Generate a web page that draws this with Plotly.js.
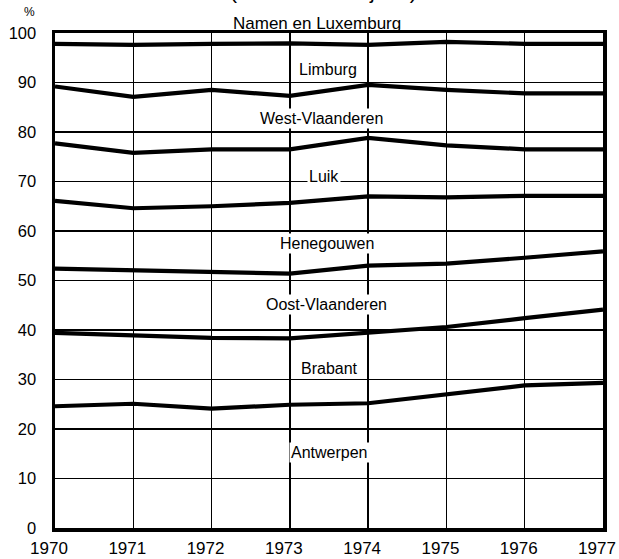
<!DOCTYPE html>
<html>
<head>
<meta charset="utf-8">
<script src="https://cdn.plot.ly/plotly-3.0.1.min.js"></script>
<style>html,body{margin:0;padding:0;background:#fff;}#chart{width:619px;height:559px;}</style>
</head>
<body>
<div id="chart"></div>
<script>
const years = [1970, 1971, 1972, 1973, 1974, 1975, 1976, 1977];
// cumulative upper boundaries (%) of each province band
const antwerpen       = [24.6, 25.1, 24.1, 24.9, 25.2, 26.9, 28.8, 29.3];
const brabant         = [39.4, 38.9, 38.4, 38.3, 39.4, 40.6, 42.4, 44.1];
const oostVlaanderen  = [52.4, 52.1, 51.6, 51.4, 53.0, 53.4, 54.6, 55.9];
const henegouwen      = [66.1, 64.6, 65.0, 65.7, 67.0, 66.8, 67.1, 67.1];
const luik            = [77.7, 75.8, 76.5, 76.5, 78.8, 77.3, 76.5, 76.5];
const westVlaanderen  = [89.2, 87.1, 88.5, 87.3, 89.5, 88.5, 87.8, 87.8];
const limburg         = [97.8, 97.6, 97.8, 97.9, 97.6, 98.2, 97.8, 97.8];

const bandNames = ["Antwerpen", "Brabant", "Oost-Vlaanderen", "Henegouwen", "Luik", "West-Vlaanderen", "Limburg"];
const labelX    = [1973.51, 1973.51, 1973.47, 1973.47, 1973.44, 1973.40, 1973.49];
const labelY    = [15.3, 32.3, 45.1, 57.5, 71.1, 82.8, 92.7];
const topLabel  = "Namen en Luxemburg";
const yTicks = [0, 10, 20, 30, 40, 50, 60, 70, 80, 90, 100];

const series = [antwerpen, brabant, oostVlaanderen, henegouwen, luik, westVlaanderen, limburg];
const traces = series.map((s, i) => ({
  x: years, y: s, type: 'scatter', mode: 'lines', name: bandNames[i],
  line: {color: '#000', width: 4.2}, hoverinfo: 'skip'
}));

const font = {family: 'Liberation Sans, Arial, Helvetica, sans-serif', color: '#000'};

const annotations = bandNames.map((n, i) => ({
  x: labelX[i], y: labelY[i], xref: 'x', yref: 'y', text: n, showarrow: false,
  font: Object.assign({}, font, {size: 16}),
  bgcolor: '#fff', borderpad: 1
}));
annotations.push({xref: 'paper', yref: 'paper', x: 0.478, y: 1.019, text: topLabel, showarrow: false,
  xanchor: 'center', yanchor: 'middle', font: Object.assign({}, font, {size: 17})});
annotations.push({xref: 'paper', yref: 'paper', x: -0.047, y: 1.025, text: '%', showarrow: false,
  xanchor: 'center', yanchor: 'bottom', font: Object.assign({}, font, {size: 12})});
annotations.push({xref: 'paper', yref: 'paper', x: 0.49, y: 1.057, text: '(cumulatieve cijfers)', showarrow: false,
  xanchor: 'center', yanchor: 'bottom', font: Object.assign({}, font, {size: 21})});

const layout = {
  width: 619, height: 559,
  margin: {l: 55, r: 16, t: 33, b: 31, pad: 0},
  paper_bgcolor: '#fff', plot_bgcolor: '#fff',
  showlegend: false,
  font: font,
  xaxis: {
    range: [1970, 1977], tickmode: 'array', tickvals: years, ticktext: years.map(String),
    showgrid: true, gridcolor: '#000', gridwidth: 1.3, zeroline: false,
    showline: true, linecolor: '#000', linewidth: 3.5, mirror: true,
    ticks: '', ticklabelstandoff: 2, ticklabelshift: -6, ticklabeloverflow: 'allow',
    tickfont: Object.assign({}, font, {size: 17})
  },
  yaxis: {
    range: [0, 100], tickmode: 'array', tickvals: yTicks, ticktext: yTicks.map(String),
    showgrid: true, gridcolor: '#000', gridwidth: 1.3, zeroline: false,
    showline: true, linecolor: '#000', linewidth: 3.5, mirror: true,
    ticks: '', ticklabelstandoff: 12, tickfont: Object.assign({}, font, {size: 16.5})
  },
  annotations: annotations
};

Plotly.newPlot('chart', traces, layout, {displayModeBar: false, staticPlot: true});
</script>
</body>
</html>
